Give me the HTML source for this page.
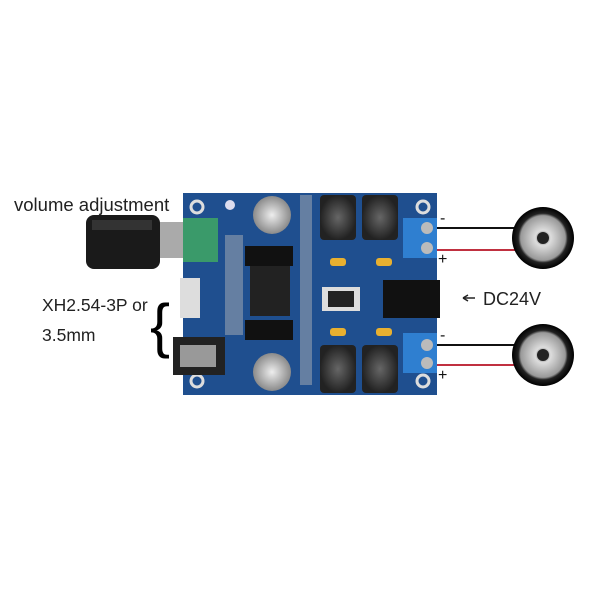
<!DOCTYPE html>
<html><head><style>
body{margin:0;background:#fff;width:600px;height:600px;overflow:hidden}
svg text{font-family:"Liberation Sans",sans-serif}
</style></head><body>
<svg width="600" height="600" viewBox="0 0 600 600">
<defs>
<radialGradient id="spk" cx="50%" cy="50%" r="50%">
<stop offset="0" stop-color="#333"/><stop offset="0.25" stop-color="#ddd"/><stop offset="0.72" stop-color="#999"/><stop offset="0.8" stop-color="#222"/><stop offset="1" stop-color="#000"/>
</radialGradient>
<radialGradient id="cap" cx="50%" cy="50%" r="50%"><stop offset="0" stop-color="#eee"/><stop offset="1" stop-color="#8a8a8a"/></radialGradient>
<radialGradient id="ind" cx="50%" cy="50%" r="50%"><stop offset="0" stop-color="#666"/><stop offset="1" stop-color="#222"/></radialGradient>
</defs>
<text x="14" y="211" font-size="18.5" fill="#222">volume adjustment</text>
<text x="42" y="311" font-size="17.5" fill="#222">XH2.54-3P or</text>
<text x="42" y="341" font-size="17.5" fill="#222">3.5mm</text>
<text x="150" y="346" font-size="60" fill="#000" font-family="Liberation Serif">{</text>
<line x1="463" y1="298" x2="475" y2="298" stroke="#222" stroke-width="1.5"/>
<path d="M463 298 l5 -3 M463 298 l5 3" stroke="#222" stroke-width="1.5" fill="none"/>
<text x="483" y="305" font-size="18" fill="#222">DC24V</text>
<!-- knob -->
<rect x="158" y="222" width="26" height="36" fill="#aaa"/>
<rect x="86" y="215" width="74" height="54" rx="8" fill="#1a1a1a"/>
<rect x="92" y="220" width="60" height="10" fill="#333"/>
<!-- wires -->
<line x1="437" y1="228" x2="518" y2="228" stroke="#111" stroke-width="2"/>
<line x1="437" y1="250" x2="518" y2="250" stroke="#c03040" stroke-width="2"/>
<line x1="437" y1="345" x2="518" y2="345" stroke="#111" stroke-width="2"/>
<line x1="437" y1="365" x2="518" y2="365" stroke="#c03040" stroke-width="2"/>
<text x="440" y="223" font-size="16" fill="#111">-</text>
<text x="438" y="264" font-size="16" fill="#111">+</text>
<text x="440" y="340" font-size="16" fill="#111">-</text>
<text x="438" y="380" font-size="16" fill="#111">+</text>
<circle cx="543" cy="238" r="31" fill="url(#spk)"/>
<circle cx="543" cy="238" r="6" fill="#222"/>
<circle cx="543" cy="355" r="31" fill="url(#spk)"/>
<circle cx="543" cy="355" r="6" fill="#222"/>
<!-- board -->
<rect x="183" y="193" width="254" height="202" fill="#1f4f8f"/>
<g fill="none" stroke="#ddd" stroke-width="3">
<circle cx="197" cy="207" r="6"/><circle cx="423" cy="207" r="6"/><circle cx="197" cy="381" r="6"/><circle cx="423" cy="381" r="6"/></g>
<circle cx="230" cy="205" r="5" fill="#dde"/>
<rect x="183" y="218" width="35" height="44" fill="#3a9a6a"/>
<rect x="180" y="278" width="20" height="40" fill="#ddd"/>
<rect x="173" y="337" width="52" height="38" fill="#222"/>
<rect x="180" y="345" width="36" height="22" fill="#999"/>
<circle cx="272" cy="215" r="19" fill="url(#cap)"/>
<circle cx="272" cy="372" r="19" fill="url(#cap)"/>
<rect x="245" y="246" width="48" height="20" fill="#111"/>
<rect x="250" y="266" width="40" height="50" fill="#222"/>
<rect x="245" y="320" width="48" height="20" fill="#111"/>
<rect x="320" y="195" width="36" height="45" rx="4" fill="url(#ind)"/>
<rect x="362" y="195" width="36" height="45" rx="4" fill="url(#ind)"/>
<rect x="320" y="345" width="36" height="48" rx="4" fill="url(#ind)"/>
<rect x="362" y="345" width="36" height="48" rx="4" fill="url(#ind)"/>
<rect x="322" y="287" width="38" height="24" fill="#ddd"/>
<rect x="328" y="291" width="26" height="16" fill="#222"/>
<g fill="#e8b030"><rect x="330" y="258" width="16" height="8" rx="3"/><rect x="376" y="258" width="16" height="8" rx="3"/><rect x="330" y="328" width="16" height="8" rx="3"/><rect x="376" y="328" width="16" height="8" rx="3"/></g>
<rect x="383" y="280" width="57" height="38" fill="#111"/>
<rect x="403" y="218" width="34" height="40" fill="#2f7fd0"/>
<rect x="403" y="333" width="34" height="40" fill="#2f7fd0"/>
<g fill="#bbb"><circle cx="427" cy="228" r="6"/><circle cx="427" cy="248" r="6"/><circle cx="427" cy="345" r="6"/><circle cx="427" cy="363" r="6"/></g>
<g fill="#bbb" opacity="0.45"><rect x="225" y="235" width="18" height="100"/><rect x="300" y="195" width="12" height="190"/></g>
</svg>
</body></html>
